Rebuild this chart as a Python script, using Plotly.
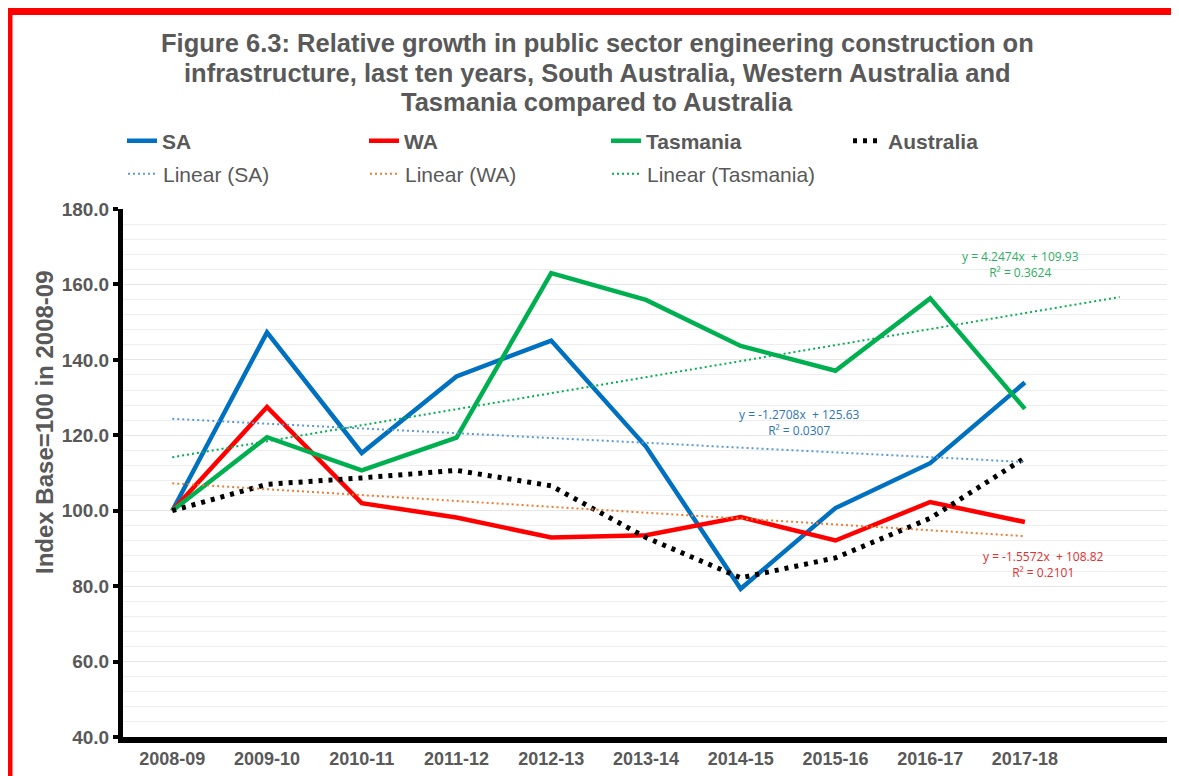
import numpy as np
import plotly.graph_objects as go

years = ["2008-09", "2009-10", "2010-11", "2011-12", "2012-13",
         "2013-14", "2014-15", "2015-16", "2016-17", "2017-18"]

sa = [100.0, 147.3, 115.3, 135.6, 145.1, 117.0, 79.3, 100.7, 112.6, 134.0]
wa = [100.0, 127.5, 102.0, 98.2, 92.9, 93.5, 98.3, 92.1, 102.3, 97.0]
tas = [100.0, 119.5, 110.7, 119.4, 163.0, 155.9, 143.7, 137.1, 156.3, 127.0]
aus = [100.0, 107.0, 108.7, 110.7, 106.6, 92.9, 82.2, 87.5, 98.0, 114.0]

# Excel linear trendline coefficients as printed on the chart (x = 1..n)
trend_sa = (-1.2708, 125.63, 0.0307)
trend_wa = (-1.5572, 108.82, 0.2101)
trend_tas = (4.2474, 109.93, 0.3624)

title_lines = [
    "Figure 6.3: Relative growth in public sector engineering construction on",
    "infrastructure, last ten years, South Australia, Western Australia and",
    "Tasmania compared to Australia",
]

x = np.arange(len(years))

GRAY = "#595959"
NARROW = "Liberation Sans Narrow, Arial Narrow, Liberation Sans, Arial"
ARIAL = "Liberation Sans, Arial"

W, H = 1179, 776
OFF = 8  # the page body adds an 8px margin; layout below is in figure px
l, r, t, b = 115, 20, 201, 47
pw, ph = W - l - r, H - t - b


def px_x(p):
    return (p - OFF - l) / pw


def px_y(p):
    return (H - b - (p - OFF)) / ph


def trend(coef, n):
    xs = np.arange(n)
    return xs, coef[0] * (xs + 1) + coef[1]


fig = go.Figure()

fig.add_trace(go.Scatter(x=x, y=sa, name="SA", mode="lines",
                         line=dict(color="#0070C0", width=4.5), legend="legend"))
fig.add_trace(go.Scatter(x=x, y=wa, name="WA", mode="lines",
                         line=dict(color="#FF0000", width=4.5), legend="legend"))
fig.add_trace(go.Scatter(x=x, y=tas, name="Tasmania", mode="lines",
                         line=dict(color="#00B050", width=4.5), legend="legend"))
fig.add_trace(go.Scatter(x=x, y=aus, name="Australia", mode="lines",
                         line=dict(color="black", width=5, dash="4px,6px"),
                         legend="legend"))

tx, ty = trend(trend_sa, len(years))
fig.add_trace(go.Scatter(x=tx, y=ty, name="Linear (SA)", mode="lines",
                         line=dict(color="#5B9BD5", width=2, dash="2px,3px"),
                         legend="legend2"))
tx, ty = trend(trend_wa, len(years))
fig.add_trace(go.Scatter(x=tx, y=ty, name="Linear (WA)", mode="lines",
                         line=dict(color="#ED7D31", width=2, dash="2px,3px"),
                         legend="legend2"))
tx, ty = trend(trend_tas, len(years) + 1)  # forecast forward one period
fig.add_trace(go.Scatter(x=tx, y=ty, name="Linear (Tasmania)", mode="lines",
                         line=dict(color="#00B050", width=2, dash="2px,3px"),
                         legend="legend2"))

leg_common = dict(orientation="h", xref="container", yref="container",
                  xanchor="left", yanchor="middle", bgcolor="rgba(0,0,0,0)",
                  entrywidth=197, entrywidthmode="pixels", itemwidth=30,
                  traceorder="normal")
legend1 = dict(x=(122 - OFF) / W, y=1 - (141 - OFF) / H,
               font=dict(family=ARIAL, size=21, color=GRAY, weight="bold"),
               **leg_common)
legend2 = dict(x=(123 - OFF) / W, y=1 - (174 - OFF) / H,
               font=dict(family=ARIAL, size=21, color=GRAY),
               **leg_common)


def eq_text(coef):
    sign = "+" if coef[1] >= 0 else "-"
    return "y = %.4fx  %s %.2f<br>R² = %.4f" % (coef[0], sign, abs(coef[1]), coef[2])


ann_font = dict(family="Liberation Sans Narrow, Open Sans, Arial", size=12)
annotations = [
    dict(x=8.95, y=165.4, text=eq_text(trend_tas), showarrow=False,
         font=dict(color="#2EAE63", **ann_font)),
    dict(x=6.62, y=123.5, text=eq_text(trend_sa), showarrow=False,
         font=dict(color="#2E75B6", **ann_font)),
    dict(x=9.2, y=85.8, text=eq_text(trend_wa), showarrow=False,
         font=dict(color="#E0302F", **ann_font)),
    dict(x=px_x(44), y=px_y(422), xref="paper", yref="paper",
         xanchor="center", yanchor="middle",
         text="Index Base=100 in 2008-09", textangle=-90, showarrow=False,
         font=dict(family=ARIAL, size=24, color=GRAY, weight="bold")),
]
for line, cy in zip(title_lines, [43, 73, 102]):
    annotations.append(dict(
        x=px_x(597), y=px_y(cy), xref="paper", yref="paper", text=line,
        showarrow=False, xanchor="center", yanchor="middle",
        font=dict(family=ARIAL, size=25.5, color=GRAY, weight="bold")))

# red frame around the picture (left and top edges visible)
shapes = [
    dict(type="line", xref="paper", yref="paper", x0=px_x(9), x1=px_x(9),
         y0=px_y(7), y1=px_y(820), line=dict(color="#FF0000", width=7)),
    dict(type="line", xref="paper", yref="paper", x0=px_x(5), x1=px_x(1220),
         y0=px_y(11), y1=px_y(11), line=dict(color="#FF0000", width=8)),
]

fig.update_layout(
    width=W, height=H,
    margin=dict(l=l, r=r, t=t, b=b, autoexpand=False),
    paper_bgcolor="white", plot_bgcolor="white",
    showlegend=True,
    legend=legend1, legend2=legend2,
    annotations=annotations,
    shapes=shapes,
)

fig.update_xaxes(
    range=[-0.52, 10.5], tickmode="array", tickvals=list(x), ticktext=years,
    showgrid=False, zeroline=False,
    showline=True, linecolor="black", linewidth=6,
    ticks="", ticklabelstandoff=0,
    tickfont=dict(family=NARROW, size=18, color=GRAY, weight="bold"),
)
fig.update_yaxes(
    range=[40, 180], dtick=20, tickformat=".1f",
    showgrid=True, gridcolor="#E6E6E6", gridwidth=1,
    minor=dict(dtick=4, showgrid=True, gridcolor="#EEEEEE", gridwidth=1),
    zeroline=False, showline=True, linecolor="black", linewidth=5,
    ticks="outside", ticklen=5, tickwidth=4, tickcolor="black",
    tickfont=dict(family=NARROW, size=19, color=GRAY, weight="bold"),
)

fig.write_html("out.html")
